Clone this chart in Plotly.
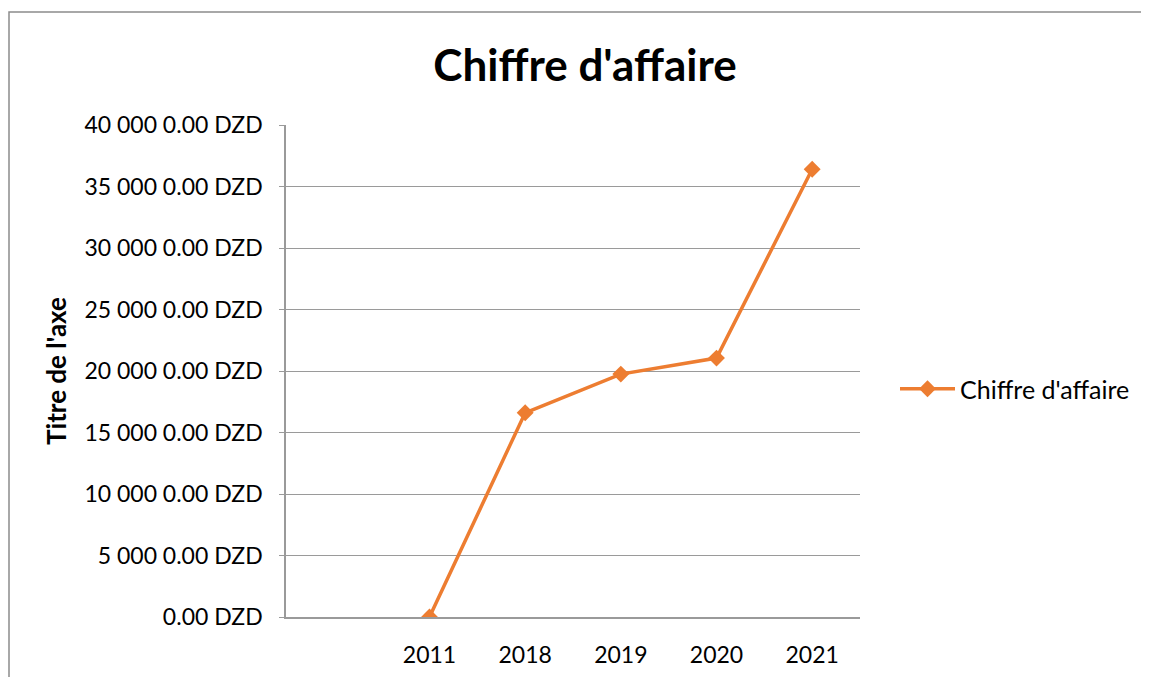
import plotly.graph_objects as go

# Data
years = ["2011", "2018", "2019", "2020", "2021"]
chiffre = [0, 166000, 197500, 210500, 364000]
y_ticks = [0, 50000, 100000, 150000, 200000, 250000, 300000, 350000, 400000]
y_tick_labels = ["0.00 DZD", "5 000 0.00 DZD", "10 000 0.00 DZD", "15 000 0.00 DZD",
                 "20 000 0.00 DZD", "25 000 0.00 DZD", "30 000 0.00 DZD",
                 "35 000 0.00 DZD", "40 000 0.00 DZD"]

# first category slot is empty in the original workbook
x_pos = list(range(1, len(years) + 1))

# page body has an 8px margin, so the figure is shrunk by that much
OFF = 8
W, H = 1149 - OFF, 677 - OFF
L, T = 286 - OFF, 125 - OFF
R, B = W - (860 - OFF), H - (617 - OFF)
pw, ph = W - L - R, H - T - B

fig = go.Figure()
fig.add_trace(go.Scatter(
    x=x_pos, y=chiffre, mode="lines+markers", name="Chiffre d'affaire",
    line=dict(color="#ED7D31", width=3.5),
    marker=dict(symbol="diamond", size=13, color="#ED7D31"),
))

# outer chart border
fig.add_shape(type="rect", xref="paper", yref="paper",
              x0=(1 - L) / pw, x1=(W + 20 - L) / pw,
              y0=(-20 - B) / ph, y1=(H - 4 - B) / ph,
              line=dict(color="#8c8c8c", width=1.5), layer="below")

fig.update_layout(
    width=W, height=H,
    margin=dict(l=L, r=R, t=T, b=B),
    paper_bgcolor="white", plot_bgcolor="white",
    font=dict(family="Lato, Open Sans, sans-serif", color="black", size=23),
    title=dict(text="<b>Chiffre d'affaire</b>", x=(585 - OFF) / W, xanchor="center",
               y=1 - (66 - OFF) / H, yanchor="middle", font=dict(size=44)),
    showlegend=True,
    legend=dict(x=(895 - 286) / pw, y=(617 - 389) / ph, xanchor="left", yanchor="middle",
                font=dict(size=25), itemwidth=55, bgcolor="rgba(0,0,0,0)"),
)
fig.update_xaxes(
    range=[0.5 - 1, len(years) + 0.5], tickvals=x_pos, ticktext=years,
    showgrid=False, zeroline=False, showline=True, linecolor="#9a9a9a", linewidth=2,
    ticks="", tickfont=dict(size=23), ticklabelstandoff=16, automargin=False,
)
fig.update_yaxes(
    range=[0, 400000], tickvals=y_ticks, ticktext=y_tick_labels,
    showgrid=True, gridcolor="#9a9a9a", gridwidth=1.2, zeroline=False,
    showline=True, linecolor="#9a9a9a", linewidth=1.5,
    ticks="outside", ticklen=5, tickcolor="#9a9a9a",
    tickfont=dict(size=23), ticklabelstandoff=12, automargin=False,
    title=dict(text="<b>Titre de l'axe</b>", font=dict(size=26), standoff=10),
)

fig.write_html("out.html")
